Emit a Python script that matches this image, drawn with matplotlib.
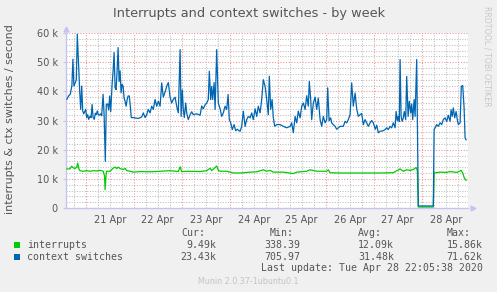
import numpy as np
import matplotlib
matplotlib.use('Agg')
import matplotlib.pyplot as plt
from matplotlib.patches import Rectangle


# ------------------------------------------------------- #
# Data (time = hours since 21 Apr 00:00, values in thousands / second)

ctx_hours = [
    -9.4, -8.5, -7.7, -6.9, -6.4, -5.9, -5.2, -4.7, -4.2, -3.5, -3.0, -2.5,
    -2.0, -1.5, -1.0, -0.5, 0.0, 0.5, 1.0, 1.5, 2.2, 2.7, 3.2, 3.7, 4.3, 4.8,
    5.3, 5.8, 6.3, 6.8, 7.5, 8.0, 8.7, 9.2, 9.8, 10.3, 11.0, 11.5, 12.0, 12.5,
    13.2, 13.7, 14.2, 14.7, 15.2, 15.7, 16.2, 16.7, 17.2, 17.7, 18.2, 18.7,
    19.2, 19.7, 20.2, 20.7, 21.2, 21.8, 22.3, 22.8, 23.8, 25.2, 26.3, 28.0,
    28.8, 29.7, 30.5, 31.3, 32.2, 33.0, 33.8, 34.7, 35.5, 36.3, 37.2, 38.0,
    38.8, 39.7, 40.5, 41.3, 42.2, 43.0, 43.8, 44.7, 45.5, 46.3, 47.2, 47.7,
    48.3, 48.8, 49.3, 50.0, 50.5, 51.3, 52.2, 53.0, 53.8, 55.5, 57.2, 58.0,
    58.8, 59.7, 60.5, 61.3, 61.8, 62.5, 63.0, 63.5, 64.2, 64.7, 65.5, 66.3,
    67.2, 68.0, 68.8, 69.7, 70.5, 71.2, 71.8, 72.5, 73.3, 74.2, 75.0, 75.8,
    76.7, 77.2, 78.0, 78.8, 79.7, 80.5, 81.3, 82.2, 83.0, 83.8, 84.7, 85.5,
    86.3, 87.2, 88.0, 88.8, 89.7, 90.5, 91.3, 91.8, 92.5, 93.2, 93.8, 94.5,
    95.5, 97.2, 98.8, 100.5, 102.2, 103.0, 103.8, 104.7, 105.5, 106.3, 107.2,
    108.0, 108.8, 109.7, 110.5, 111.3, 111.8, 112.5, 113.0, 113.8, 114.7,
    115.5, 116.3, 117.2, 118.0, 118.8, 119.7, 120.5, 121.0, 121.7, 122.5,
    123.0, 123.8, 124.7, 125.5, 127.2, 128.8, 129.7, 130.5, 131.3, 132.2,
    133.0, 133.8, 134.7, 135.5, 136.3, 137.2, 138.0, 138.8, 139.7, 140.5,
    141.3, 142.2, 143.0, 143.8, 144.8, 145.5, 146.3, 147.2, 148.8, 149.7,
    150.5, 151.3, 152.2, 153.0, 153.8, 154.7, 155.2, 155.8, 156.3, 156.8,
    157.2, 157.7, 158.2, 158.8, 159.3, 160.0, 160.5, 161.2, 161.8, 162.5,
    163.0, 163.5, 164.2, 164.7, 165.5, 166.3, 168.0, 170.0, 172.0, 173.8,
    174.2, 174.7, 175.5, 176.3, 177.2, 178.0, 178.8, 179.7, 180.5, 181.3,
    182.2, 182.7, 183.3, 183.8, 184.5, 185.2, 185.8, 186.3, 187.2, 187.8,
    188.5, 189.2, 189.7, 190.2]
ctx_values = [
    37.3, 38.5, 39.0, 42.0, 51.0, 41.8, 43.0, 44.0, 59.6, 48.0, 40.0, 33.8,
    41.8, 33.3, 32.3, 33.0, 33.8, 31.0, 32.0, 30.4, 31.5, 31.0, 35.5, 31.0,
    30.4, 32.5, 32.0, 33.3, 32.0, 31.8, 32.3, 31.6, 39.0, 32.0, 16.0, 35.5,
    35.7, 33.6, 38.4, 33.0, 42.4, 47.0, 53.3, 41.2, 40.6, 47.0, 55.0, 43.4,
    47.0, 39.5, 42.4, 41.8, 37.7, 36.6, 34.9, 37.0, 38.4, 38.4, 34.9, 31.0,
    31.0, 30.8, 30.7, 31.2, 32.6, 31.0, 32.0, 33.8, 32.6, 34.9, 33.8, 37.2,
    34.9, 36.6, 34.9, 42.9, 38.0, 39.8, 41.7, 43.0, 38.0, 36.0, 37.2, 38.0,
    34.9, 32.6, 54.3, 31.4, 40.5, 33.8, 31.0, 36.0, 32.6, 30.3, 32.0, 33.0,
    32.0, 32.3, 31.8, 35.0, 34.0, 35.4, 36.0, 37.2, 46.9, 37.2, 41.7, 37.2,
    43.0, 33.8, 54.3, 36.0, 34.0, 31.4, 32.6, 34.9, 33.8, 38.9, 30.3, 29.2,
    26.9, 28.6, 26.5, 27.0, 26.5, 26.3, 28.0, 33.2, 28.0, 30.3, 31.4, 30.9,
    32.6, 30.3, 34.0, 31.4, 34.9, 32.6, 37.2, 44.0, 41.7, 37.2, 32.0, 45.2,
    33.8, 37.2, 31.0, 28.0, 28.6, 28.6, 28.0, 27.5, 28.0, 29.2, 25.8, 31.4,
    29.2, 33.2, 30.9, 34.9, 36.0, 33.8, 38.5, 34.9, 43.4, 37.2, 30.3, 36.0,
    38.0, 33.8, 37.7, 30.3, 28.0, 31.4, 29.2, 30.3, 41.2, 29.9, 30.9, 29.2,
    28.6, 28.0, 27.0, 28.0, 28.0, 29.7, 29.2, 30.3, 32.0, 42.9, 34.9, 39.4,
    34.0, 31.4, 32.0, 32.4, 28.6, 30.3, 29.2, 28.0, 29.2, 30.0, 29.2, 27.0,
    28.4, 25.8, 26.3, 26.5, 26.9, 27.5, 26.9, 28.0, 27.5, 29.2, 27.5, 33.1,
    30.0, 31.4, 29.7, 50.9, 31.4, 29.7, 30.9, 33.1, 30.3, 45.1, 31.4, 36.6,
    32.6, 35.7, 30.3, 37.2, 31.4, 50.9, 0.7, 0.7, 0.7, 0.7, 0.7, 26.9, 27.5,
    28.6, 28.0, 29.2, 28.6, 30.3, 30.9, 29.7, 31.8, 29.7, 33.7, 31.4, 34.3,
    30.9, 33.1, 30.3, 28.6, 29.2, 41.7, 42.0, 34.3, 24.0, 23.4]

irq_hours = [
    -9.4, -7.9, -7.0, -6.2, -5.4, -4.5, -4.0, -3.4, -2.9, -1.2, 0.5, 2.2, 3.8,
    5.5, 7.2, 8.8, 9.4, 9.7, 10.2, 10.5, 12.2, 13.8, 14.7, 15.5, 16.3, 17.2,
    18.8, 19.7, 20.5, 22.2, 23.8, 27.2, 32.2, 37.2, 42.2, 46.3, 47.2, 48.0,
    52.2, 57.2, 60.5, 62.2, 63.0, 65.5, 66.3, 67.2, 70.5, 72.2, 73.8, 77.2,
    82.2, 85.5, 88.8, 90.5, 92.2, 93.8, 98.8, 103.8, 105.5, 110.5, 112.2,
    115.5, 120.5, 121.3, 122.2, 127.2, 135.5, 140.5, 147.2, 153.8, 157.2,
    158.8, 160.5, 162.2, 163.8, 165.2, 165.8, 166.3, 170.0, 173.8, 174.2,
    177.2, 180.5, 182.2, 185.5, 187.7, 188.5, 189.3, 190.2]
irq_values = [
    13.4, 13.4, 14.3, 13.8, 13.5, 14.0, 15.4, 13.4, 12.8, 12.6, 12.8, 12.6,
    12.8, 12.7, 12.9, 12.6, 11.0, 6.3, 11.5, 12.6, 12.6, 13.7, 14.0, 13.5,
    14.0, 13.5, 13.2, 13.6, 12.8, 12.6, 12.3, 12.5, 12.4, 12.6, 12.8, 12.5,
    14.1, 12.5, 12.6, 12.5, 12.8, 13.6, 12.8, 14.4, 12.9, 12.6, 12.6, 12.3,
    12.0, 12.0, 12.3, 12.4, 13.1, 12.6, 12.9, 12.3, 12.3, 11.8, 12.3, 12.6,
    13.1, 12.6, 12.6, 13.1, 12.1, 12.0, 12.0, 12.0, 12.0, 12.1, 13.4, 12.6,
    13.1, 12.9, 13.2, 13.9, 12.9, 0.34, 0.34, 0.34, 12.0, 12.3, 12.2, 12.5,
    12.2, 12.9, 12.0, 10.3, 9.5]

day_labels = ['21 Apr', '22 Apr', '23 Apr', '24 Apr',
              '25 Apr', '26 Apr', '27 Apr', '28 Apr']
y_ticks = [0, 10, 20, 30, 40, 50, 60]
y_tick_labels = ['0', '10 k', '20 k', '30 k', '40 k', '50 k', '60 k']

series_names = ['interrupts', 'context switches']
series_colors = ['#00CC00', '#0066B3']
cur_vals = ['9.49k', '23.43k']
min_vals = ['338.39', '705.97']
avg_vals = ['12.09k', '31.48k']
max_vals = ['15.86k', '71.62k']


# ------------------------------------------------------- #
# Figure

W, H = 497, 292
fig = plt.figure(figsize=(W / 100, H / 100), dpi=100, facecolor='#F0F0F0')


def px(x, y):
    return x / W, 1 - y / H


ax = fig.add_axes([66 / W, (H - 208) / H, 402 / W, 175 / H])
ax.set_facecolor('white')

x_lo, x_hi = -9.85, 191.15
ax.set_xlim(x_lo, x_hi)
ax.set_ylim(0, 60)

# grid
for h in range(-6, 192, 6):
    if h % 24 == 0:
        ax.axvline(h, color='#EE9999', lw=0.8, ls=(0, (1, 1.5)), zorder=1)
    else:
        ax.axvline(h, color='#BDBDBD', lw=0.75, ls=(0, (1, 1.5)), zorder=0)
for v in range(2, 61, 2):
    if v % 10 == 0:
        ax.axhline(v, color='#EE9999', lw=0.8, ls=(0, (1, 1.5)), zorder=1)
    else:
        ax.axhline(v, color='#BDBDBD', lw=0.75, ls=(0, (1, 1.5)), zorder=0)

# lines
ax.plot(irq_hours, irq_values, color=series_colors[0], lw=0.9, zorder=3)
ax.plot(ctx_hours, ctx_values, color=series_colors[1], lw=0.9, zorder=4)

# axes
for s in ['top', 'right']:
    ax.spines[s].set_visible(False)
for s in ['left', 'bottom']:
    ax.spines[s].set_color('#C4C4F2')
    ax.spines[s].set_linewidth(1.0)
ax.plot([0], [1.025], marker='^', ms=3.5, color='#C4C4F2',
        transform=ax.transAxes, clip_on=False)
ax.plot([1.012], [0], marker='>', ms=3.5, color='#C4C4F2',
        transform=ax.transAxes, clip_on=False)

ax.set_xticks([12 + 24 * i for i in range(len(day_labels))])
ax.set_xticklabels(day_labels)
ax.set_yticks(y_ticks)
ax.set_yticklabels(y_tick_labels)
ax.tick_params(axis='x', length=0, pad=5, labelsize=7, labelcolor='#555555')
ax.tick_params(axis='y', length=2, color='#C4C4F2', pad=4,
               labelsize=7, labelcolor='#555555')

# texts
fig.text(*px(249.5, 13), 'Interrupts and context switches - by week',
         ha='center', va='center', fontsize=9.3, color='#555555')
fig.text(*px(10, 119), 'interrupts & ctx switches / second',
         ha='center', va='center', rotation=90, fontsize=8, color='#555555')
fig.text(*px(486.7, 56), 'RRDTOOL / TOBI OETIKER', ha='center', va='center',
         rotation=270, fontsize=5.7, color='#C8C8C8')

# legend
mono = dict(family='DejaVu Sans Mono', fontsize=7.1, color='#555555', va='center')
for hx, lab in zip([181.7, 270, 358.3, 446.7], ['Cur:', 'Min:', 'Avg:', 'Max:']):
    fig.text(*px(hx, 232.7), lab, ha='left', **mono)

rows_y = [245, 256.7]
for i in range(2):
    fig.add_artist(Rectangle(px(14, rows_y[i] + 3), 6 / W, 6 / H,
                             transform=fig.transFigure,
                             color=series_colors[i], lw=0))
    fig.text(*px(26.7, rows_y[i]), series_names[i], ha='left', **mono)
    for vx, vals in zip([216.7, 300, 394, 482.7],
                        [cur_vals, min_vals, avg_vals, max_vals]):
        fig.text(*px(vx, rows_y[i]), vals[i], ha='right', **mono)

fig.text(*px(482.7, 268.3), 'Last update: Tue Apr 28 22:05:38 2020',
         ha='right', **mono)
fig.text(*px(248, 281), 'Munin 2.0.37-1ubuntu0.1', ha='center', va='center',
         fontsize=5.8, color='#C4C4C4')

plt.savefig('out.png', dpi=100, facecolor=fig.get_facecolor())
